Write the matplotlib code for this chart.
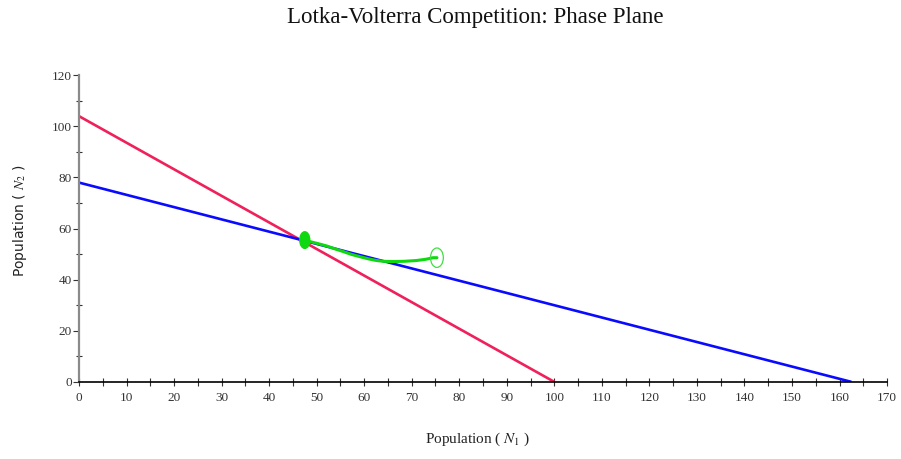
import matplotlib
matplotlib.use("Agg")
import matplotlib.pyplot as plt
from matplotlib.patches import Ellipse
from matplotlib.ticker import MultipleLocator

plt.rcParams["mathtext.fontset"] = "stix"

# Nullclines of the competition model (end points on the axes)
n1_nullcline_x = [0, 162.5]
n1_nullcline_y = [78, 0]
n2_nullcline_x = [0, 100]
n2_nullcline_y = [104, 0]

# Trajectory from the initial state to the coexistence equilibrium
traj_n1 = [75.3, 74.5, 73.0, 71.0, 68.5, 66.1, 64.0, 62.6, 61.0, 59.1, 57.3, 55.6, 53.8, 52.1, 50.3, 48.6, 47.5]
traj_n2 = [48.6, 48.6, 48.0, 47.5, 47.2, 47.1, 47.2, 47.5, 48.1, 49.0, 49.9, 51.0, 52.1, 53.2, 54.1, 54.9, 55.5]
start = (75.3, 48.6)
equilibrium = (47.5, 55.5)

fig = plt.figure(figsize=(9.01, 4.59), dpi=100)
ax = fig.add_axes([0.0877, 0.168, 0.8968, 0.668])

ax.plot(n2_nullcline_x, n2_nullcline_y, color="#f0205a", lw=1.9, solid_capstyle="butt")
ax.plot(n1_nullcline_x, n1_nullcline_y, color="#0a0aff", lw=1.9, solid_capstyle="butt")
ax.plot(traj_n1, traj_n2, color="#10d810", lw=2.2, solid_capstyle="round")

ax.add_patch(Ellipse(equilibrium, 2.1, 6.5, facecolor="#10d810", edgecolor="#10d810", zorder=4))
ax.add_patch(Ellipse(start, 2.7, 7.6, facecolor="none", edgecolor="#40e040", lw=0.9, zorder=4))

ax.set_xlim(0, 170)
ax.set_ylim(0, 120)
ax.xaxis.set_major_locator(MultipleLocator(10))
ax.xaxis.set_minor_locator(MultipleLocator(5))
ax.yaxis.set_major_locator(MultipleLocator(20))
ax.yaxis.set_minor_locator(MultipleLocator(10))

for s in ["top", "right"]:
    ax.spines[s].set_visible(False)
ax.spines["bottom"].set_color("black")
ax.spines["bottom"].set_linewidth(1.2)
ax.spines["left"].set_color("#8a8a8a")
ax.spines["left"].set_linewidth(1.6)

ax.tick_params(axis="x", which="both", direction="inout", length=6, width=0.8,
               color="#333333", labelsize=9.5, pad=4)
ax.tick_params(axis="y", which="major", direction="out", length=4, width=0.8,
               color="#333333", labelsize=9.5, pad=1)
ax.tick_params(axis="y", which="minor", direction="inout", length=5, width=0.8, color="#333333")
for lab in ax.get_xticklabels() + ax.get_yticklabels():
    lab.set_family("Liberation Serif")
    lab.set_color("#333333")

fig.text(0.527, 0.962, "Lotka-Volterra Competition: Phase Plane", ha="center", va="center",
         family="Liberation Serif", fontsize=16.5, color="#111111")
fig.text(0.53, 0.043, "Population ( $N_1$ )", ha="center", va="center",
         family="Liberation Serif", fontsize=11, color="#222222")
fig.text(0.022, 0.52, "Population ( $N_2$ )", ha="center", va="center", rotation=90,
         family="DejaVu Sans", fontsize=10, color="#222222")

fig.savefig("out.png", dpi=100)
